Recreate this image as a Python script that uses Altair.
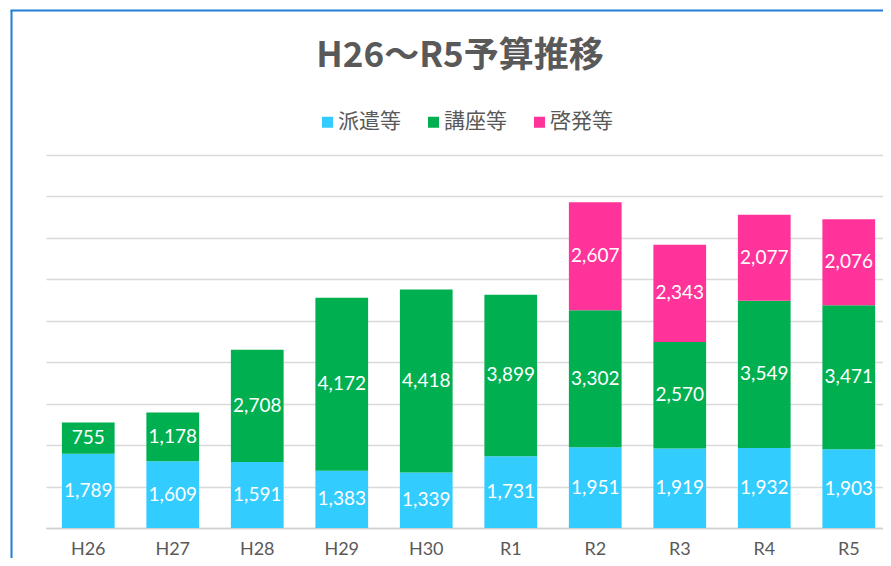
import altair as alt
import pandas as pd

years = ["H26", "H27", "H28", "H29", "H30", "R1", "R2", "R3", "R4", "R5"]
series = ["派遣等", "講座等", "啓発等"]
colors = ["#33CCFF", "#00B050", "#FF3399"]
haken = [1789, 1609, 1591, 1383, 1339, 1731, 1951, 1919, 1932, 1903]
koza = [755, 1178, 2708, 4172, 4418, 3899, 3302, 2570, 3549, 3471]
keihatsu = [None, None, None, None, None, None, 2607, 2343, 2077, 2076]
title_text = "H26～R5予算推移"
y_ticks = [0, 1000, 2000, 3000, 4000, 5000, 6000, 7000, 8000, 9000]

rows = []
for i, y in enumerate(years):
    for k, vals in enumerate([haken, koza, keihatsu]):
        v = vals[i]
        if v is not None:
            rows.append({"year": y, "series": series[k], "ord": k, "value": v})
df = pd.DataFrame(rows)

W, H = 845, 373
GRAY = "#595959"

base = alt.Chart(df).transform_stack(
    stack="value", groupby=["year"], as_=["y0", "y1"],
    sort=[alt.SortField("ord", order="ascending")]
).transform_calculate(mid="(datum.y0 + datum.y1) / 2")

xenc = alt.X("year:N", sort=years, title=None,
             scale=alt.Scale(paddingInner=0.376, paddingOuter=0.188),
             axis=alt.Axis(labelAngle=0, ticks=False, labelPadding=12,
                           labelFont="Lato", labelFontSize=18, labelColor=GRAY,
                           domainColor="#d0d0d0", domainWidth=1.5, grid=False))

bars = base.mark_bar().encode(
    x=xenc,
    y=alt.Y("y0:Q", scale=alt.Scale(domain=[0, 9000], nice=False), title=None,
            axis=alt.Axis(values=y_ticks, labels=False, ticks=False, domain=False,
                          grid=True, gridColor="#d9d9d9", gridWidth=1.3)),
    y2="y1:Q",
    color=alt.Color("series:N", sort=series,
                    scale=alt.Scale(domain=series, range=colors),
                    legend=alt.Legend(title=None, orient="none", direction="horizontal",
                                      columns=3, legendX=271, legendY=-43.5,
                                      symbolType="square", symbolSize=121,
                                      symbolStrokeWidth=0, labelOffset=0,
                                      columnPadding=22, padding=0,
                                      labelFont="Noto Sans CJK JP", labelFontSize=21,
                                      labelColor=GRAY)),
    order=alt.Order("ord:Q"),
)

labels = base.mark_text(color="white", font="Lato", fontSize=19, baseline="middle").encode(
    x=alt.X("year:N", sort=years),
    y=alt.Y("mid:Q"),
    text=alt.Text("value:Q", format=","),
)

title = alt.Chart(pd.DataFrame({"t": [title_text]})).mark_text(
    font="Noto Sans CJK JP", fontSize=35, fontWeight="bold", color=GRAY,
    align="center", baseline="alphabetic"
).encode(text="t:N", x=alt.value(414), y=alt.value(-88))

bdf = pd.DataFrame({"b": [1]})
left_border = alt.Chart(bdf).mark_rule(color="#1F7FD6", strokeWidth=2).encode(
    x=alt.value(-34.5), y=alt.value(-145), y2=alt.value(H + 60))
top_border = alt.Chart(bdf).mark_rule(color="#1F7FD6", strokeWidth=2).encode(
    y=alt.value(-144.5), x=alt.value(-35.5), x2=alt.value(W + 20))

chart = alt.layer(bars, labels, title, left_border, top_border).properties(
    width=W, height=H,
    autosize=alt.AutoSizeParams(type="none"),
    padding={"left": 38, "top": 147, "right": -8, "bottom": 30},
).configure_view(stroke=None).resolve_scale(y="shared")

chart.save("out.html", embed_options={"renderer": "svg", "actions": False})
